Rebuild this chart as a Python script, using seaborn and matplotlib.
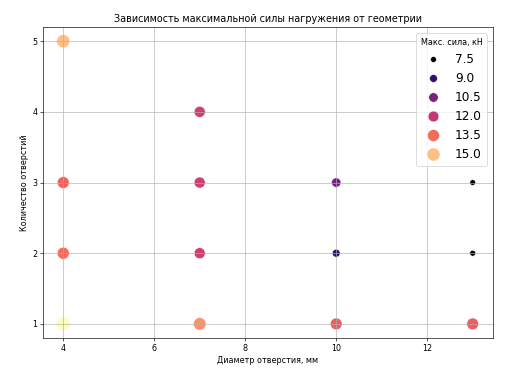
import pandas as pd
import matplotlib
matplotlib.use('Agg')
import matplotlib.pyplot as plt
import seaborn as sns

# Data
diameter = [4, 4, 4, 4, 7, 7, 7, 7, 10, 10, 10, 13, 13, 13]
holes = [5, 3, 2, 1, 4, 3, 2, 1, 3, 2, 1, 3, 2, 1]
force = [15.0, 13.3, 13.5, 16.2, 12.3, 12.3, 12.3, 14.2, 10.4, 9.0, 13.2, 7.4, 7.5, 13.2]

df = pd.DataFrame({'Диаметр отверстия, мм': diameter,
                   'Количество отверстий': holes,
                   'Макс. сила, кН': force})

fig, ax = plt.subplots(figsize=(528 / 58, 376 / 58), dpi=58)
sns.scatterplot(data=df, x='Диаметр отверстия, мм', y='Количество отверстий',
                hue='Макс. сила, кН', size='Макс. сила, кН',
                palette='magma', sizes=(50, 300), ax=ax)
ax.grid(True)
ax.set_yticks([1, 2, 3, 4, 5])
ax.set_title('Зависимость максимальной силы нагружения от геометрии')
ax.legend(title='Макс. сила, кН', fontsize=15, loc='upper right')
plt.subplots_adjust(left=0.081, right=0.934, top=0.928, bottom=0.101)
plt.savefig('out.png')
